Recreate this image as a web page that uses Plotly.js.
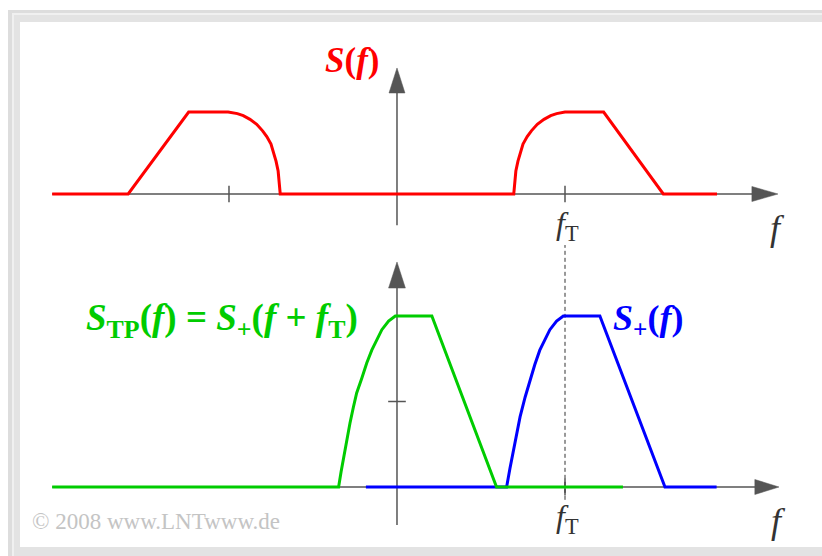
<!DOCTYPE html>
<html>
<head>
<meta charset="utf-8">
<script src="https://cdn.plot.ly/plotly-3.0.1.min.js"></script>
<style>
  html, body { margin: 0; padding: 0; background: #ffffff; }
  #chart { width: 822px; height: 556px; }
</style>
</head>
<body>
<div id="chart"></div>
<script>
// Frequency axis in units where the carrier frequency f_T = 4.
const fT = 4;

// Bandpass spectrum S(f) (top panel), peak value 1.
const sF = [-8.21, -6.40, -4.96, -4.02, -3.80, -3.66, -3.50, -3.34, -3.20, -3.10, -3.00, -2.945, -2.88, -2.83, -2.80, -2.78,
            2.78, 2.80, 2.83, 2.88, 2.95, 3.00, 3.10, 3.20, 3.34, 3.50, 3.66, 3.80, 4.00, 4.92, 6.34, 7.62];
const sV = [0, 0, 1, 1, 0.98, 0.955, 0.91, 0.85, 0.77, 0.70, 0.61, 0.52, 0.40, 0.28, 0.15, 0,
            0, 0.15, 0.28, 0.40, 0.52, 0.61, 0.70, 0.77, 0.85, 0.91, 0.955, 0.98, 1, 1, 0, 0];

// Analytic signal spectrum S+(f) (bottom panel, blue), peak value 2.
const plusF = [-0.74, 2.61, 2.69, 2.77, 2.85, 2.93, 3.05, 3.17, 3.28, 3.40, 3.52, 3.64, 3.80, 3.96, 4.83, 6.38, 7.61];
const plusV = [0, 0, 0.22, 0.43, 0.63, 0.82, 1.05, 1.25, 1.43, 1.60, 1.73, 1.84, 1.94, 2, 2, 0, 0];

// Equivalent lowpass spectrum S_TP(f) (bottom panel, green).
const tpF = [-8.21, -1.39, -1.33, -1.27, -1.20, -1.12, -1.04, -0.96, -0.84, -0.72, -0.60, -0.48, -0.36, -0.20, -0.04, 0.83, 2.37, 5.38];
const tpV = [0, 0, 0.18, 0.35, 0.55, 0.745, 0.93, 1.10, 1.27, 1.45, 1.60, 1.73, 1.84, 1.94, 2, 2, 0, 0];

// Texts
const tickLabelFT = '<i>f</i><sub>T</sub>';
const axisLabelF = '<i>f</i>';
const labelS = '<b><i>S</i>(<i>f</i>)</b>';
const labelTP = '<b><i>S</i><sub>TP</sub>(<i>f</i>) = <i>S</i><sub>+</sub>(<i>f</i> + <i>f</i><sub>T</sub>)</b>';
const labelPlus = '<b><i>S</i><sub>+</sub>(<i>f</i>)</b>';
const copyright = '\u00A9 2008 www.LNTwww.de';

const W = 822, H = 556;
const px = v => v / W;          // pixel -> paper x
const py = v => 1 - v / H;      // pixel -> paper y

const serif = 'Liberation Serif, Times New Roman, serif';
const axisGray = '#555555';
const red = '#ff0000', blue = '#0000ff', green = '#00cc00';

const traces = [
  { x: sF, y: sV, xaxis: 'x', yaxis: 'y', mode: 'lines',
    line: { color: red, width: 3 }, hoverinfo: 'skip' },
  { x: plusF, y: plusV, xaxis: 'x', yaxis: 'y2', mode: 'lines',
    line: { color: blue, width: 3 }, hoverinfo: 'skip' },
  { x: tpF, y: tpV, xaxis: 'x', yaxis: 'y2', mode: 'lines',
    line: { color: green, width: 3 }, hoverinfo: 'skip' }
];

function line(x0, y0, x1, y1, yref, extra) {
  return Object.assign({ type: 'line', xref: 'x', yref: yref, x0, y0, x1, y1,
    line: { color: axisGray, width: 1.5 }, layer: 'below' }, extra || {});
}
function tri(points, yref) {
  const d = 'M' + points.map(p => p[0] + ',' + p[1]).join(' L') + ' Z';
  return { type: 'path', xref: 'x', yref: yref, path: d,
    fillcolor: axisGray, line: { color: axisGray, width: 0.5 }, layer: 'below' };
}

const shapes = [
  // frame
  { type: 'rect', xref: 'paper', yref: 'paper', x0: px(8), x1: px(840), y0: py(570), y1: py(10),
    fillcolor: '#dddddd', line: { width: 0 }, layer: 'below' },
  { type: 'rect', xref: 'paper', yref: 'paper', x0: px(12), x1: px(840), y0: py(570), y1: py(13),
    fillcolor: '#f0f0f0', line: { width: 0 }, layer: 'below' },
  { type: 'rect', xref: 'paper', yref: 'paper', x0: px(14), x1: px(840), y0: py(570), y1: py(15),
    fillcolor: '#e3e3e3', line: { width: 0 }, layer: 'below' },
  { type: 'rect', xref: 'paper', yref: 'paper', x0: px(20), x1: px(840), y0: py(547), y1: py(22),
    fillcolor: '#ffffff', line: { width: 0 }, layer: 'below' },

  // top panel axes
  line(-8.21, 0, 8.50, 0, 'y'),
  tri([[9.07, 0], [8.45, 0.0915], [8.45, -0.0915]], 'y'),
  line(0, -0.38, 0, 1.25, 'y'),
  tri([[0, 1.537], [-0.19, 1.232], [0.19, 1.232]], 'y'),
  line(-fT, -0.1, -fT, 0.1, 'y'),
  line(fT, -0.1, fT, 0.1, 'y'),

  // bottom panel axes
  line(-8.21, 0, 8.55, 0, 'y2'),
  tri([[9.095, 0], [8.52, 0.0877], [8.52, -0.0877]], 'y2'),
  line(0, -0.444, 0, 2.35, 'y2'),
  tri([[0, 2.632], [-0.2, 2.327], [0.2, 2.327]], 'y2'),
  line(-0.21, 1, 0.21, 1, 'y2'),
  line(fT, -0.1, fT, 0.1, 'y2'),

  // carrier marker linking both panels
  line(fT, -0.15, fT, 2.83, 'y2', { line: { color: '#333333', width: 1, dash: '4px,3px' } })
];

const annotations = [
  { xref: 'x', yref: 'y', x: -1.07, y: 1.634, text: labelS, showarrow: false,
    xanchor: 'center', yanchor: 'middle', font: { family: serif, size: 35, color: red } },
  { xref: 'x', yref: 'y2', x: -4.17, y: 1.953, text: labelTP, showarrow: false,
    xanchor: 'center', yanchor: 'middle', font: { family: serif, size: 37, color: green } },
  { xref: 'x', yref: 'y2', x: 5.98, y: 1.953, text: labelPlus, showarrow: false,
    xanchor: 'center', yanchor: 'middle', font: { family: serif, size: 36, color: blue } },

  { xref: 'x', yref: 'y', x: 4.07, y: -0.39, text: tickLabelFT, showarrow: false,
    xanchor: 'center', yanchor: 'middle', font: { family: serif, size: 32, color: '#333333' } },
  { xref: 'x', yref: 'y', x: 9.07, y: -0.42, text: axisLabelF, showarrow: false,
    xanchor: 'center', yanchor: 'middle', font: { family: serif, size: 36, color: '#333333' } },
  { xref: 'x', yref: 'y2', x: 4.07, y: -0.37, text: tickLabelFT, showarrow: false,
    xanchor: 'center', yanchor: 'middle', font: { family: serif, size: 32, color: '#333333' } },
  { xref: 'x', yref: 'y2', x: 9.09, y: -0.40, text: axisLabelF, showarrow: false,
    xanchor: 'center', yanchor: 'middle', font: { family: serif, size: 36, color: '#333333' } },

  { xref: 'paper', yref: 'paper', x: px(30), y: py(521), text: copyright, showarrow: false,
    xanchor: 'left', yanchor: 'middle', font: { family: serif, size: 23, color: '#c4c4c4' } }
];

const layout = {
  width: W, height: H,
  margin: { l: 0, r: 0, t: 0, b: 0, pad: 0 },
  paper_bgcolor: '#ffffff', plot_bgcolor: 'rgba(0,0,0,0)',
  showlegend: false,
  xaxis: { range: [-9.452, 10.119], visible: false, fixedrange: true, domain: [0, 1] },
  yaxis: { range: [-4.415, 2.366], visible: false, fixedrange: true, domain: [0, 1] },
  yaxis2: { range: [-0.807, 5.696], visible: false, fixedrange: true, domain: [0, 1],
            overlaying: 'y' },
  shapes: shapes,
  annotations: annotations
};

Plotly.newPlot('chart', traces, layout, { staticPlot: true, displayModeBar: false });
</script>
</body>
</html>
